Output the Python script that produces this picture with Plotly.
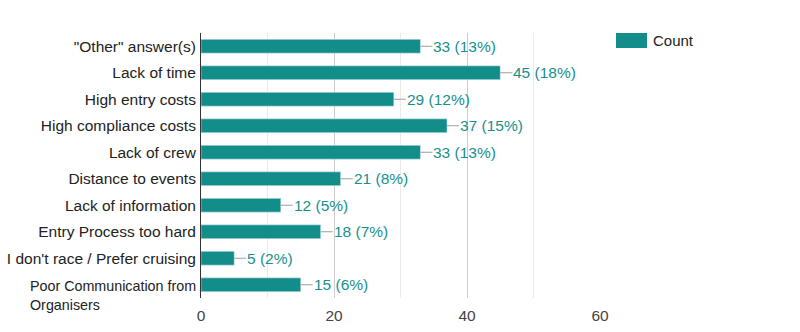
import plotly.graph_objects as go

categories = ['"Other" answer(s)', "Lack of time", "High entry costs", "High compliance costs",
              "Lack of crew", "Distance to events", "Lack of information", "Entry Process too hard",
              "I don't race / Prefer cruising", "Poor Communication from<br>Organisers"]
counts = [33, 45, 29, 37, 33, 21, 12, 18, 5, 15]
percents = [13, 18, 12, 15, 13, 8, 5, 7, 2, 6]
series_name = "Count"
x_ticks = [0, 20, 40, 60]

TEAL = "#138d8a"
FONT = "Liberation Sans, Arial, sans-serif"

fig = go.Figure()
fig.add_trace(go.Bar(y=categories, x=counts, orientation="h", marker_color=TEAL,
                     name=series_name, showlegend=False, hoverinfo="x+y"))

# leader lines from bar end to label
lx, ly = [], []
for c, v in zip(categories, counts):
    lx += [v, v + 1.8, None]
    ly += [c, c, None]
fig.add_trace(go.Scatter(x=lx, y=ly, mode="lines", line=dict(color="#9e9e9e", width=1),
                         showlegend=False, hoverinfo="skip"))

annotations = []
for c, v, p in zip(categories, counts, percents):
    annotations.append(dict(x=v + 1.8, y=c, xref="x", yref="y", text=f"{v} ({p}%)",
                            showarrow=False, xanchor="left", yanchor="middle",
                            font=dict(color="#15918d", size=15.5, family=FONT), xshift=-1))

# wrapped last category label, left aligned
ticktext = [c if "<br>" not in c else "" for c in categories]
last = [c for c in categories if "<br>" in c][0]
annotations.append(dict(x=-0.433, y=last, xref="paper", yref="y", text=last, showarrow=False,
                        xanchor="left", yanchor="top", align="left", yshift=9,
                        font=dict(color="#222222", size=14.3, family=FONT)))

# legend swatch
annotations.append(dict(x=1.128, y=1.0, xref="paper", yref="paper", text=series_name,
                        showarrow=False, xanchor="left", yanchor="middle", yshift=-7,
                        font=dict(color="#222222", size=15, family=FONT)))

fig.add_shape(type="rect", xref="paper", yref="paper", x0=1.0401, x1=1.1178, y0=0.9434, y1=1.0,
              fillcolor=TEAL, line=dict(width=0))

fig.update_layout(
    width=800, height=332,
    margin=dict(l=201, r=200, t=33, b=34, autoexpand=False),
    paper_bgcolor="white", plot_bgcolor="white",
    bargap=0.48,
    font=dict(family=FONT, size=15.5, color="#222222"),
    annotations=annotations,
    showlegend=False,
    xaxis=dict(range=[0, 60], tickvals=x_ticks, showgrid=True, gridcolor="#cccccc", gridwidth=1,
               minor=dict(dtick=10, tick0=0, showgrid=True, gridcolor="#ebebeb", gridwidth=1),
               zeroline=False, showline=False, ticks="", ticklabelstandoff=6, automargin=False,
               tickfont=dict(size=15.5, color="#444444", family=FONT)),
    yaxis=dict(autorange="reversed", tickvals=categories, ticktext=ticktext, ticks="",
               showline=True, linecolor="#333333", linewidth=1, showgrid=False,
               ticklabelstandoff=1, automargin=False,
               tickfont=dict(size=15.5, color="#222222", family=FONT)),
)

fig.write_html("out.html")
